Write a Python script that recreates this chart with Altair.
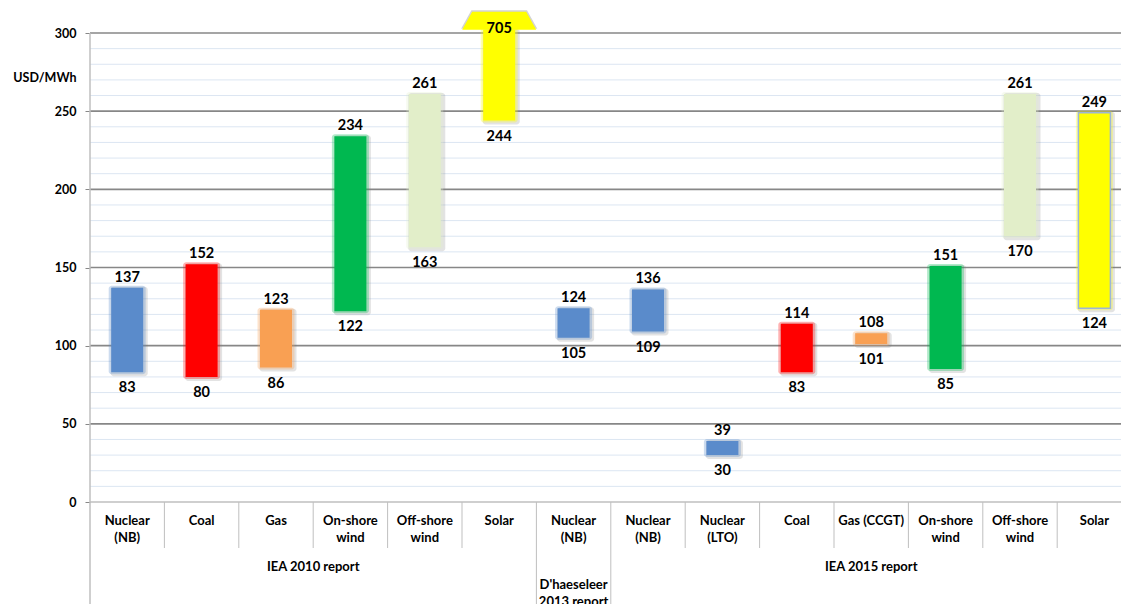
import altair as alt
import pandas as pd

# Levelised cost ranges (USD/MWh) per technology and report
categories = ["Nuclear\n(NB)", "Coal", "Gas", "On-shore\nwind", "Off-shore\nwind", "Solar",
              "Nuclear\n(NB)", "Nuclear\n(NB)", "Nuclear\n(LTO)", "Coal", "Gas (CCGT)",
              "On-shore\nwind", "Off-shore\nwind", "Solar"]
technologies = ["nuclear", "coal", "gas", "onshore", "offshore", "solar",
                "nuclear", "nuclear", "nuclear", "coal", "gas", "onshore", "offshore", "solar"]
low_values = [83, 80, 86, 122, 163, 244, 105, 109, 30, 83, 101, 85, 170, 124]
high_values = [137, 152, 123, 234, 261, 705, 124, 136, 39, 114, 108, 151, 261, 249]

group_names = ["IEA 2010 report", "D'haeseleer\n2013 report", "IEA 2015 report"]
group_starts = [0, 6, 7]
group_ends = [6, 7, 14]

tech_order = ["nuclear", "coal", "gas", "onshore", "offshore", "solar"]
tech_colors = ["#5A8BCB", "#FF0000", "#F9A053", "#00B850", "#E2EEC9", "#FFFF00"]

Y_MAX = 300
ARROW_BASE = 302          # ranges running off the axis end in an arrow here
W, H = 1031, 469
STEP = 74.4               # column width; the last column runs past the right edge
N = len(categories)

df = pd.DataFrame({
    "idx": range(N),
    "label": categories,
    "tech": technologies,
    "low": low_values,
    "high": high_values,
})
df["x"] = df["idx"] + 0.5
df["capped"] = df["high"] > Y_MAX
df["top"] = df["high"].where(~df["capped"], ARROW_BASE)

groups = pd.DataFrame({"name": group_names, "start": group_starts, "end": group_ends})
groups["mid"] = (groups["start"] + groups["end"]) / 2
groups["span"] = groups["end"] - groups["start"]

inner_seps = pd.DataFrame({"pos": [i for i in range(1, N) if i not in group_starts]})
group_seps = pd.DataFrame({"pos": [s for s in group_starts if s > 0] + [N]})
major_grid = pd.DataFrame({"v": list(range(50, Y_MAX + 1, 50))})
minor_grid = pd.DataFrame({"v": [v for v in range(10, Y_MAX, 10) if v % 50]})

xs = alt.Scale(domain=[0, W / STEP], range=[0, W], nice=False, zero=False, padding=0)
ys = alt.Scale(domain=[0, Y_MAX], nice=False, zero=True, padding=0)

FONT = "Lato"
BOLD = "bold"
LIGHT = "#BFBFBF"

y_axis = alt.Axis(
    values=list(range(0, Y_MAX + 1, 50)),
    grid=False,
    domain=False,
    ticks=True, tickSize=5, tickColor="#878787",
    labelFont=FONT, labelFontSize=12.5, labelFontWeight=BOLD, labelColor="#000000",
    labelPadding=9,
    title="USD/MWh", titleAngle=0, titleAlign="right", titleBaseline="middle",
    titleX=-14, titleY=44, titleFont=FONT, titleFontSize=12.5, titleFontWeight=BOLD,
    titleColor="#000000",
)

color = alt.Color("tech:N", scale=alt.Scale(domain=tech_order, range=tech_colors), legend=None)

base = alt.Chart(df).encode(x=alt.X("x:Q", scale=xs, axis=None))

minor = alt.Chart(minor_grid).mark_rule(color="#DCE6F2", strokeWidth=1).encode(
    y=alt.Y("v:Q", scale=ys, axis=y_axis)
)
major = alt.Chart(major_grid).mark_rule(color="#878787", strokeWidth=1.7).encode(
    y=alt.Y("v:Q", scale=ys)
)
zero_line = alt.Chart(pd.DataFrame({"v": [0]})).mark_rule(color=LIGHT, strokeWidth=1.5).encode(
    y=alt.Y("v:Q", scale=ys)
)

# soft drop shadow and colour halo behind each range bar
shadow = base.mark_bar(size=37, color="#7F7F7F", opacity=0.22, xOffset=2, yOffset=-1,
                       y2Offset=4, cornerRadius=3).encode(
    y=alt.Y("top:Q", scale=ys), y2="low:Q"
)
glow = base.mark_bar(size=37, opacity=0.3, yOffset=-2, y2Offset=2, cornerRadius=3).encode(
    y=alt.Y("top:Q", scale=ys), y2="low:Q", color=color
)
bars = base.mark_bar(size=32).encode(
    y=alt.Y("top:Q", scale=ys), y2="low:Q", color=color,
    stroke=alt.condition("datum.idx == 13", alt.value("#9DB6D8"), alt.value("transparent")),
    strokeWidth=alt.value(1.5),
)

head_path = "M -1 0 L -0.73 -0.49 L 0.73 -0.49 L 1 0 Z"
head_shadow = base.transform_filter("datum.capped").mark_point(
    shape=head_path, size=5800, filled=True, color="#808080", opacity=0.35, yOffset=-1
).encode(y=alt.Y("top:Q", scale=ys))
head = base.transform_filter("datum.capped").mark_point(
    shape=head_path, size=5476, filled=True, color="#FFFF00", opacity=1
).encode(y=alt.Y("top:Q", scale=ys))

value_style = dict(font=FONT, fontSize=14.5, fontWeight=BOLD, color="#000000", align="center")
top_labels = base.transform_filter("!datum.capped").mark_text(
    baseline="alphabetic", dy=-6, **value_style
).encode(y=alt.Y("high:Q", scale=ys), text="high:Q")
arrow_labels = base.transform_filter("datum.capped").mark_text(
    baseline="middle", dy=-1, **value_style
).encode(y=alt.Y("top:Q", scale=ys), text="high:Q")
low_labels = base.mark_text(baseline="top", dy=9, **value_style).encode(
    y=alt.Y("low:Q", scale=ys), text="low:Q"
)

axis_style = dict(font=FONT, fontSize=13, fontWeight=BOLD, color="#000000", align="center")
cat_labels = base.mark_text(baseline="top", lineBreak="\n", lineHeight=17, **axis_style).encode(
    y=alt.value(482), text="label:N"
)

wide_groups = alt.Chart(groups).transform_filter("datum.span > 1").mark_text(
    baseline="middle", **axis_style
).encode(x=alt.X("mid:Q", scale=xs, axis=None), y=alt.value(534), text="name:N")
narrow_groups = alt.Chart(groups).transform_filter("datum.span == 1").mark_text(
    baseline="top", lineBreak="\n", lineHeight=17, **axis_style
).encode(x=alt.X("mid:Q", scale=xs, axis=None), y=alt.value(546), text="name:N")

inner_rules = alt.Chart(inner_seps).mark_rule(color=LIGHT, strokeWidth=1).encode(
    x=alt.X("pos:Q", scale=xs, axis=None), y=alt.value(H), y2=alt.value(H + 46)
)
group_rules = alt.Chart(group_seps).mark_rule(color=LIGHT, strokeWidth=1).encode(
    x=alt.X("pos:Q", scale=xs, axis=None), y=alt.value(H), y2=alt.value(H + 110)
)
axis_line = alt.Chart(pd.DataFrame({"pos": [0]})).mark_rule(color=LIGHT, strokeWidth=1.5).encode(
    x=alt.X("pos:Q", scale=xs, axis=None), y=alt.value(0), y2=alt.value(H + 110)
)

chart = alt.layer(
    minor, major, zero_line, shadow, glow, bars, head_shadow, head,
    top_labels, arrow_labels, low_labels,
    inner_rules, group_rules, axis_line,
    cat_labels, wide_groups, narrow_groups,
).properties(
    width=W, height=H,
    autosize="none",
    padding={"left": 90, "top": 33, "right": 0, "bottom": 102},
    background="#FFFFFF",
).configure_view(stroke=None)

chart.save("out.html", embed_options={"renderer": "svg", "actions": False})
